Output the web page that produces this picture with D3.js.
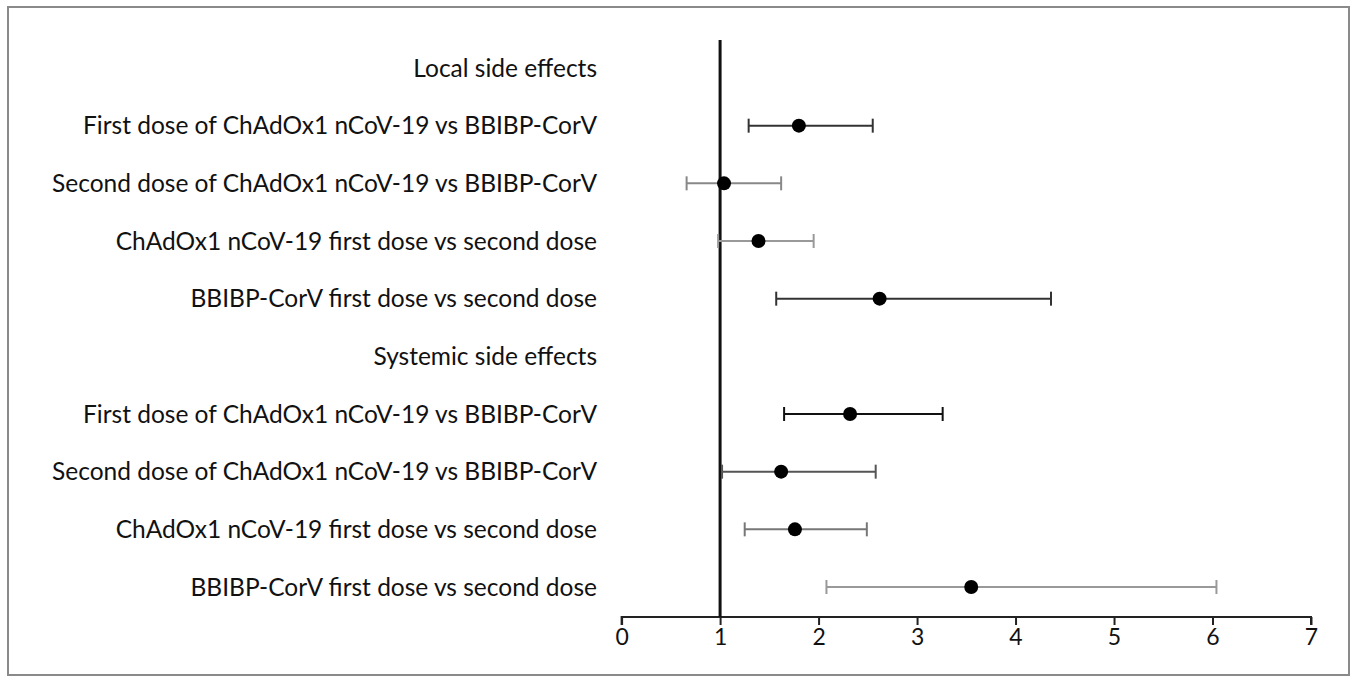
<!DOCTYPE html>
<html lang="en">
<head>
    <meta charset="UTF-8">
    <title>Side effects forest plot</title>
    <script src="https://d3js.org/d3.v7.min.js"></script>
    <style>
        body { margin: 0; background: #fff; }
        text { font-family: Lato, "Open Sans", sans-serif; fill: #111; }
    </style>
</head>
<body>
<div id="chart"></div>
<script>
    // row labels, top to bottom (section headers have no values)
    var labels = [
        "Local side effects",
        "First dose of ChAdOx1 nCoV-19 vs BBIBP-CorV",
        "Second dose of ChAdOx1 nCoV-19 vs BBIBP-CorV",
        "ChAdOx1 nCoV-19 first dose vs second dose",
        "BBIBP-CorV first dose vs second dose",
        "Systemic side effects",
        "First dose of ChAdOx1 nCoV-19 vs BBIBP-CorV",
        "Second dose of ChAdOx1 nCoV-19 vs BBIBP-CorV",
        "ChAdOx1 nCoV-19 first dose vs second dose",
        "BBIBP-CorV first dose vs second dose"
    ];
    var estimate = [null, 1.80, 1.04, 1.39, 2.62, null, 2.32, 1.62, 1.76, 3.55];
    var lower    = [null, 1.29, 0.66, 0.98, 1.57, null, 1.65, 1.02, 1.25, 2.08];
    var upper    = [null, 2.55, 1.62, 1.95, 4.36, null, 3.26, 2.58, 2.49, 6.04];
    var barColor = [null, "#333", "#888", "#999", "#333", null, "#111", "#555", "#777", "#999"];
    var xTicks = [0, 1, 2, 3, 4, 5, 6, 7];

    var W = 1354, H = 683;
    var svg = d3.select("#chart").append("svg")
        .attr("width", W).attr("height", H);

    // frame
    svg.append("rect")
        .attr("x", 8).attr("y", 7)
        .attr("width", 1341).attr("height", 668)
        .attr("fill", "#fff")
        .attr("stroke", "#8a8a8a")
        .attr("stroke-width", 2);

    var x = d3.scaleLinear().domain([0, 7]).range([621.6, 1311]);
    var y = d3.scalePoint().domain(d3.range(labels.length)).range([68, 587]);
    var axisY = 617;

    // x axis
    var xAxis = svg.append("g")
        .attr("transform", "translate(0," + axisY + ")")
        .call(d3.axisBottom(x).tickValues(xTicks).tickSize(8).tickPadding(4).tickFormat(d3.format("d")));
    xAxis.select(".domain").attr("stroke", "#222").attr("stroke-width", 2).attr("d", "M" + x(0) + ",8V0H" + x(7) + "V8");
    xAxis.selectAll(".tick line").attr("stroke", "#222").attr("stroke-width", 2);
    xAxis.selectAll(".tick text").style("font-size", "23px").attr("fill", "#111");

    // reference line at 1
    svg.append("line")
        .attr("x1", x(1)).attr("x2", x(1))
        .attr("y1", 40).attr("y2", axisY)
        .attr("stroke", "#111")
        .attr("stroke-width", 3);

    // row labels
    svg.selectAll(".lab")
        .data(labels)
        .enter().append("text")
        .attr("class", "lab")
        .attr("x", 597)
        .attr("y", (d, i) => y(i))
        .attr("dy", "0.35em")
        .attr("text-anchor", "end")
        .style("font-size", "24.5px")
        .text(d => d);

    var rows = d3.range(labels.length).filter(i => estimate[i] !== null);

    // whiskers
    var g = svg.selectAll(".ci").data(rows).enter().append("g").attr("class", "ci");
    g.append("line")
        .attr("x1", i => x(lower[i])).attr("x2", i => x(upper[i]))
        .attr("y1", i => y(i)).attr("y2", i => y(i))
        .attr("stroke", i => barColor[i]).attr("stroke-width", 2);
    g.append("line")
        .attr("x1", i => x(lower[i])).attr("x2", i => x(lower[i]))
        .attr("y1", i => y(i) - 7).attr("y2", i => y(i) + 7)
        .attr("stroke", i => barColor[i]).attr("stroke-width", 2);
    g.append("line")
        .attr("x1", i => x(upper[i])).attr("x2", i => x(upper[i]))
        .attr("y1", i => y(i) - 7).attr("y2", i => y(i) + 7)
        .attr("stroke", i => barColor[i]).attr("stroke-width", 2);

    // point estimates
    svg.selectAll(".dot")
        .data(rows)
        .enter().append("circle")
        .attr("class", "dot")
        .attr("cx", i => x(estimate[i]))
        .attr("cy", i => y(i))
        .attr("r", 7)
        .attr("fill", "#000");
</script>
</body>
</html>
